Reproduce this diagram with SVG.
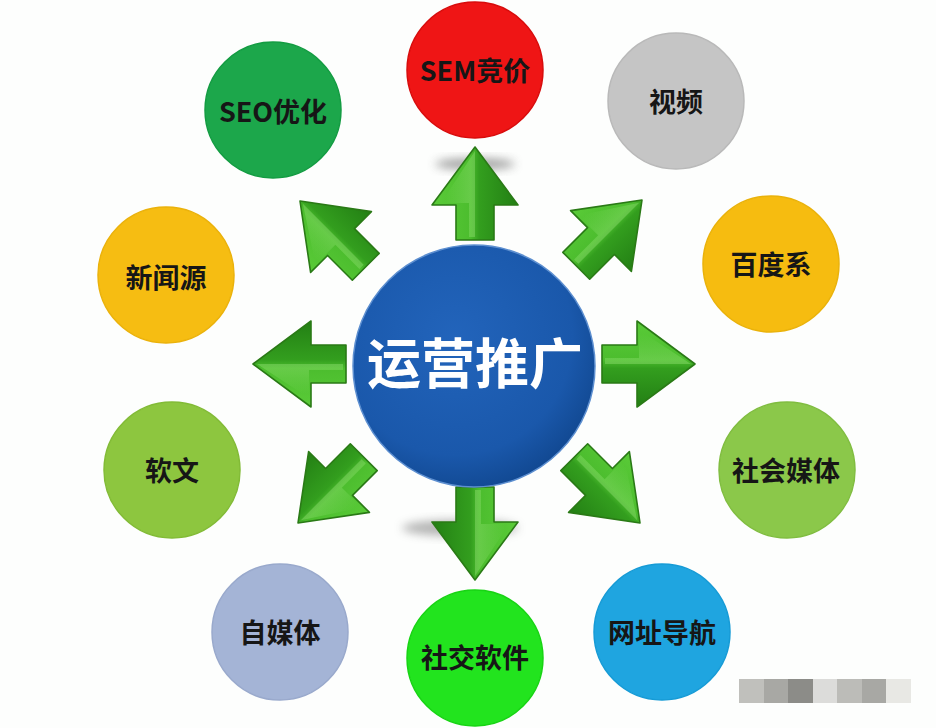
<svg xmlns="http://www.w3.org/2000/svg" width="936" height="728" viewBox="0 0 936 728">
<style>
.lbl{font-family:"Noto Sans CJK SC","Noto Sans",sans-serif;font-weight:700;font-size:27px;fill:#161616;text-anchor:middle}
.ctr{font-family:"Noto Sans CJK SC","Noto Sans",sans-serif;font-weight:700;font-size:54px;fill:#ffffff;text-anchor:middle}
.arrow{fill:url(#ag);stroke:#2a7a16;stroke-width:1.6;stroke-linejoin:round}
.ridge{fill:url(#ag2);opacity:0.3}
</style>
<defs>
<linearGradient id="ag" gradientUnits="userSpaceOnUse" x1="-43" y1="0" x2="43" y2="0">
<stop offset="0" stop-color="#5acb38"/>
<stop offset="0.45" stop-color="#4cbd2e"/>
<stop offset="0.55" stop-color="#339e1e"/>
<stop offset="1" stop-color="#237f14"/>
</linearGradient>
<linearGradient id="ag2" gradientUnits="userSpaceOnUse" x1="-30" y1="0" x2="0" y2="0">
<stop offset="0" stop-color="#a8f08a" stop-opacity="0"/>
<stop offset="1" stop-color="#b8f598"/>
</linearGradient>
<radialGradient id="cg" cx="0.42" cy="0.38" r="0.65">
<stop offset="0" stop-color="#2264bb"/>
<stop offset="0.75" stop-color="#1a58ab"/>
<stop offset="1" stop-color="#114891"/>
</radialGradient>
<filter id="blur" x="-50%" y="-50%" width="200%" height="200%"><feGaussianBlur stdDeviation="5"/></filter>
<polygon id="arr" points="0,0 43,58 19,58 19,93 -19,93 -19,58 -43,58"/>
</defs>
<rect width="936" height="728" fill="#fdfefd"/>

<g id="connectors">
<ellipse cx="475" cy="164" rx="40" ry="6" fill="#6a6a6a" opacity="0.6" filter="url(#blur)"/>
<ellipse cx="460" cy="528" rx="58" ry="8" fill="#6a6a6a" opacity="0.5" filter="url(#blur)"/>
<g transform="translate(475,147)"><use href="#arr" class="arrow"/><path class="ridge" d="M0,4 L-34,56 L-6,56 L-6,90 L0,90 Z"/></g>
<g transform="translate(475,580) rotate(180)"><use href="#arr" class="arrow"/><path class="ridge" d="M0,4 L-34,56 L-6,56 L-6,90 L0,90 Z"/></g>
<g transform="translate(253,364) rotate(-90)"><use href="#arr" class="arrow"/><path class="ridge" d="M0,4 L-34,56 L-6,56 L-6,90 L0,90 Z"/></g>
<g transform="translate(695,364) rotate(90)"><use href="#arr" class="arrow"/><path class="ridge" d="M0,4 L-34,56 L-6,56 L-6,90 L0,90 Z"/></g>
<g transform="translate(300,201) rotate(-45)"><use href="#arr" class="arrow"/><path class="ridge" d="M0,4 L-34,56 L-6,56 L-6,90 L0,90 Z"/></g>
<g transform="translate(642,200) rotate(45)"><use href="#arr" class="arrow"/><path class="ridge" d="M0,4 L-34,56 L-6,56 L-6,90 L0,90 Z"/></g>
<g transform="translate(640,523) rotate(135)"><use href="#arr" class="arrow"/><path class="ridge" d="M0,4 L-34,56 L-6,56 L-6,90 L0,90 Z"/></g>
<g transform="translate(298,523) rotate(-135)"><use href="#arr" class="arrow"/><path class="ridge" d="M0,4 L-34,56 L-6,56 L-6,90 L0,90 Z"/></g>
</g>

<g id="center">
<circle cx="474" cy="366" r="121" fill="url(#cg)" stroke="#5d8fd0" stroke-width="1.5"/>
<text class="ctr" x="475" y="384">运营推广</text>
</g>

<g id="n-sem"><circle cx="475" cy="70" r="68" fill="#ef1515" stroke="#d80c0c" stroke-width="1.5"/><text class="lbl" x="475" y="81">SEM竞价</text></g>
<g id="n-video"><circle cx="676" cy="101" r="68" fill="#c5c5c5" stroke="#b9b9b9" stroke-width="1.5"/><text class="lbl" x="676" y="112">视频</text></g>
<g id="n-baidu"><circle cx="771" cy="264" r="68" fill="#f6bc10" stroke="#eab20a" stroke-width="1.5"/><text class="lbl" x="771" y="275">百度系</text></g>
<g id="n-social-media"><circle cx="787" cy="470" r="68" fill="#8bc84a" stroke="#80bd40" stroke-width="1.5"/><text class="lbl" x="786" y="481">社会媒体</text></g>
<g id="n-nav"><circle cx="662" cy="632" r="68" fill="#1fa5e0" stroke="#169bd6" stroke-width="1.5"/><text class="lbl" x="662" y="643">网址导航</text></g>
<g id="n-social-app"><circle cx="475" cy="658" r="68" fill="#22e41e" stroke="#18d414" stroke-width="1.5"/><text class="lbl" x="475" y="668">社交软件</text></g>
<g id="n-self-media"><circle cx="280" cy="632" r="68" fill="#a4b4d6" stroke="#99a9cc" stroke-width="1.5"/><text class="lbl" x="280" y="643">自媒体</text></g>
<g id="n-article"><circle cx="172" cy="470" r="68" fill="#8dc63f" stroke="#82bb36" stroke-width="1.5"/><text class="lbl" x="172" y="481">软文</text></g>
<g id="n-news"><circle cx="166" cy="275" r="68" fill="#f6bd12" stroke="#ebb20b" stroke-width="1.5"/><text class="lbl" x="166" y="288">新闻源</text></g>
<g id="n-seo"><circle cx="273" cy="110" r="68" fill="#1ca74b" stroke="#139c42" stroke-width="1.5"/><text class="lbl" x="273" y="122">SEO优化</text></g>

<g id="watermark">
<rect x="739" y="679" width="25" height="24" fill="#c0c0bc"/>
<rect x="764" y="679" width="24" height="24" fill="#a8a8a4"/>
<rect x="788" y="679" width="25" height="24" fill="#8c8c88"/>
<rect x="813" y="679" width="24" height="24" fill="#dcdcda"/>
<rect x="837" y="679" width="25" height="24" fill="#bcbcb8"/>
<rect x="862" y="679" width="24" height="24" fill="#a8a8a4"/>
<rect x="886" y="679" width="25" height="24" fill="#e8e8e4"/>
</g>
</svg>
